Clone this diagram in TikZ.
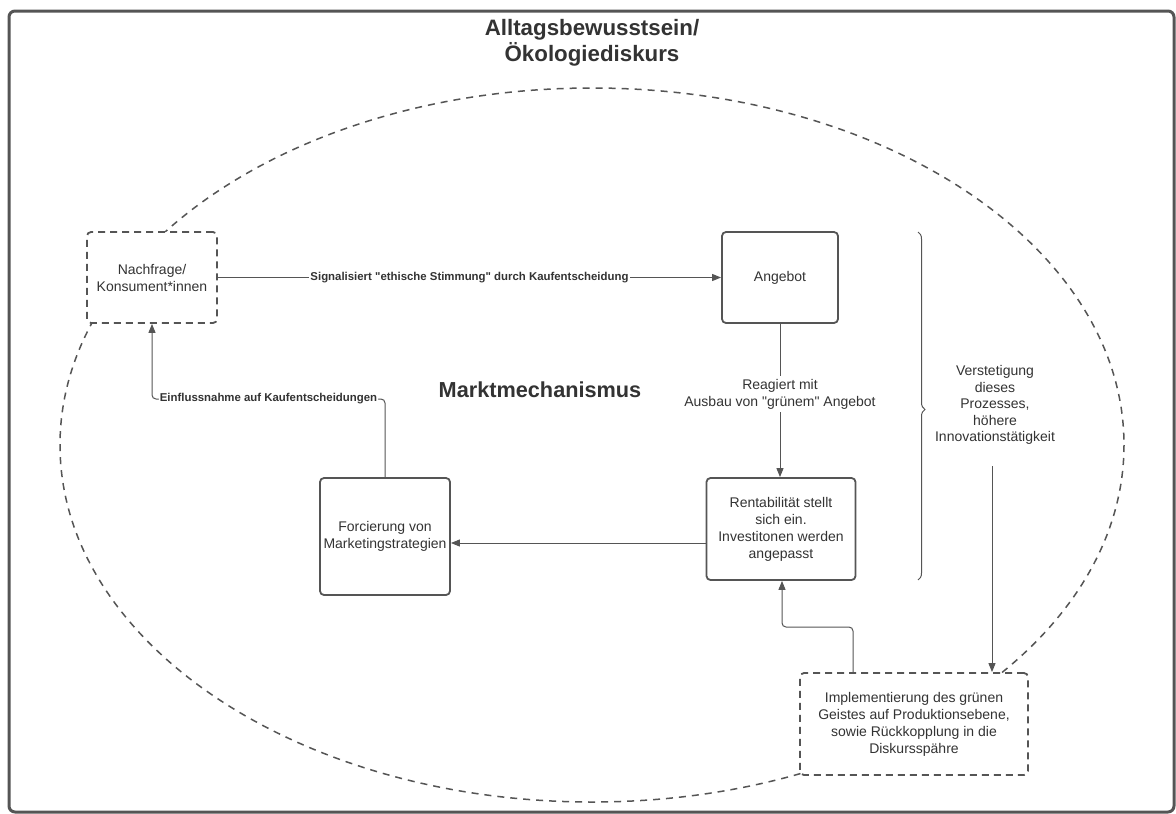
\documentclass[tikz,border=0pt]{standalone}
\usepackage{fontspec}
\setmainfont{Liberation Sans}
\usetikzlibrary{arrows.meta,decorations.pathreplacing,calc}
\definecolor{ln}{HTML}{555555}
\definecolor{tx}{HTML}{333333}
\font\qfb="Liberation Sans/B" at 11.4pt
\font\qfr="Liberation Sans" at 14pt
\newcommand{\sqb}{{\qfb\char34}}
\newcommand{\sqr}{{\qfr\char34}}
\begin{document}
\begin{tikzpicture}[x=1pt,y=-1pt,
  box/.style={draw=ln, line width=1.8pt, rounded corners=4pt, fill=white, align=center, text=tx, font=\fontsize{14}{17}\selectfont, inner sep=0pt},
  dbox/.style={box, dash pattern=on 7pt off 5pt},
  conn/.style={draw=ln, line width=1pt, -{Triangle[length=9pt,width=7pt]}},
  lbl/.style={fill=white, text=tx, font=\bfseries\fontsize{11.4}{13}\selectfont, inner sep=1pt},
  txt/.style={text=tx, align=center, font=\fontsize{14}{16.5}\selectfont},
  bigtitle/.style={text=tx, align=center, font=\bfseries\fontsize{22.3}{26}\selectfont}]
\useasboundingbox (0,0) rectangle (1176,814);
\fill[white] (0,0) rectangle (1176,814);
\draw[ln, line width=3pt, rounded corners=6pt] (9,11) rectangle (1174,812);

\node[bigtitle] (title) at (592,43) {Alltagsbewusstsein/\\Ökologiediskurs};

\draw[ln, line width=1.5pt, dash pattern=on 7pt off 6pt] (592,445) ellipse [x radius=532, y radius=357];

\node[dbox, minimum width=130pt, minimum height=91pt] (nach) at (152,277.5) {Nachfrage/\\Konsument*innen};
\node[box, minimum width=116pt, minimum height=91pt] (ang) at (780,277.5) {Angebot};
\node[box, minimum width=149pt, minimum height=102pt] (rent) at (781,529) {Rentabilität stellt\\sich ein.\\Investitonen werden\\angepasst};
\node[box, minimum width=130pt, minimum height=117pt] (forc) at (385,536.5) {Forcierung von\\Marketingstrategien};
\node[dbox, minimum width=228pt, minimum height=102pt] (impl) at (914,724) {Implementierung des grünen\\Geistes auf Produktionsebene,\\sowie Rückkopplung in die\\Diskursspähre};

\node[bigtitle, font=\bfseries\fontsize{21.7}{26}\selectfont] (markt) at (540,390) {Marktmechanismus};

\draw[conn] (nach.east) -- node[lbl] {Signalisiert \sqb ethische Stimmung\sqb\ durch Kaufentscheidung} (ang.west);
\draw[conn] (ang.south) -- node[txt, fill=white, pos=0.46] {Reagiert mit\\Ausbau von \sqr grünem\sqr\ Angebot} (ang.south |- rent.north);
\draw[conn] (rent.west |- 0,543) -- (forc.east |- 0,543);

\coordinate (e1) at (385,399);
\coordinate (e2) at (152,399);
\draw[conn, rounded corners=4pt] (forc.north) -- (e1) -- node[lbl] {Einflussnahme auf Kaufentscheidungen} (e2) -- (nach.south);

\coordinate (i1) at (853,627);
\coordinate (i2) at (782,627);
\draw[conn, rounded corners=4pt] (impl.north -| i1) -- (i1) -- (i2) -- (rent.south -| i2);

\draw[ln, line width=1pt, decorate, decoration={brace, amplitude=7pt, aspect=0.51}] (918,232) -- (918,580) coordinate (brb);

\node[txt] (vers) at (995,405) {Verstetigung\\dieses\\Prozesses,\\höhere\\Innovationstätigkeit};
\coordinate (vs) at (992,466);
\draw[conn] (vs) -- (vs |- impl.north);
\end{tikzpicture}
\end{document}
